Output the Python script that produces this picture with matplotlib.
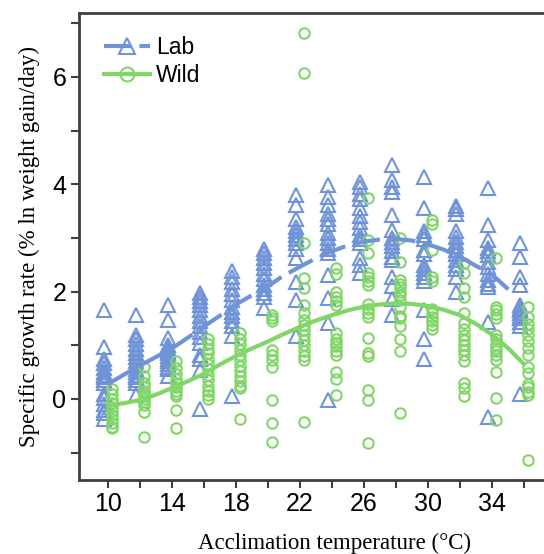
import numpy as np
import matplotlib
matplotlib.use("Agg")
import matplotlib.pyplot as plt

# acclimation temperatures (°C)
temps = [10, 12, 14, 16, 18, 20, 22, 24, 26, 28, 30, 32, 34, 36]

# specific growth rates per temperature, lab-reared fish
lab_rates = [
    [1.65, 0.97, 0.75, 0.66, 0.58, 0.5, 0.45, 0.4, 0.35, 0.3, 0.1, 0.01, -0.1, -0.2, -0.27, -0.37],
    [1.57, 1.2, 1.12, 1.02, 0.93, 0.85, 0.78, 0.7, 0.63, 0.56, 0.5, 0.45, 0.4, 0.35, 0.3, 0.07],
    [1.75, 1.47, 1.13, 1.0, 0.95, 0.9, 0.85, 0.8, 0.75, 0.7, 0.65, 0.6, 0.55, 0.42],
    [1.97, 1.9, 1.83, 1.75, 1.65, 1.55, 1.45, 1.35, 1.25, 1.15, 1.05, 0.82, 0.75, 0.54, -0.18],
    [2.38, 2.28, 2.18, 2.05, 1.95, 1.85, 1.72, 1.62, 1.55, 1.45, 1.35, 1.18, 0.05],
    [2.8, 2.72, 2.63, 2.53, 2.43, 2.33, 2.23, 2.13, 2.05, 1.97, 1.9, 1.69],
    [3.8, 3.61, 3.35, 3.2, 3.12, 3.05, 2.97, 2.9, 2.8, 2.62, 2.18, 1.84, 1.17],
    [3.98, 3.77, 3.62, 3.45, 3.35, 3.25, 3.1, 3.0, 2.9, 2.8, 2.72, 2.3, 1.88, 1.41, -0.02],
    [4.05, 3.95, 3.82, 3.72, 3.55, 3.4, 3.3, 3.18, 3.05, 2.98, 2.9, 2.62, 2.5, 2.35],
    [4.35, 4.08, 3.95, 3.85, 3.43, 3.15, 3.0, 2.92, 2.85, 2.75, 2.65, 2.58, 2.28, 2.1, 1.87, 1.56],
    [4.14, 3.55, 3.12, 3.05, 2.98, 2.77, 2.7, 2.5, 2.42, 2.35, 2.28, 2.2, 1.65, 1.12, 0.75],
    [3.6, 3.53, 3.45, 3.12, 3.02, 2.93, 2.85, 2.78, 2.7, 2.58, 2.5, 2.42, 2.28, 2.0],
    [3.92, 3.24, 2.96, 2.82, 2.75, 2.68, 2.55, 2.45, 2.32, 2.22, 2.15, 2.08, 1.44, -0.34],
    [2.9, 2.65, 2.28, 2.12, 1.75, 1.7, 1.65, 1.6, 1.55, 1.5, 1.43, 1.36, 0.1],
]

# specific growth rates per temperature, wild-caught fish
wild_rates = [
    [0.18, 0.1, 0.0, -0.08, -0.15, -0.22, -0.3, -0.38, -0.45, -0.52, -0.55],
    [0.6, 0.42, 0.3, 0.22, 0.15, 0.1, 0.05, 0.0, -0.05, -0.12, -0.24, -0.7],
    [0.7, 0.58, 0.47, 0.38, 0.3, 0.22, 0.15, 0.1, 0.05, -0.2, -0.55],
    [1.12, 1.02, 0.93, 0.85, 0.75, 0.65, 0.55, 0.45, 0.35, 0.25, 0.15, 0.07, 0.0],
    [1.22, 1.12, 1.02, 0.92, 0.82, 0.72, 0.62, 0.52, 0.42, 0.33, 0.25, 0.2, -0.37],
    [1.56, 1.5, 1.45, 0.91, 0.82, 0.72, 0.6, -0.02, -0.45, -0.8],
    [6.82, 6.08, 2.9, 2.25, 2.07, 1.75, 1.6, 1.47, 1.38, 1.28, 1.2, 1.1, 1.0, 0.9, 0.8, 0.72, -0.43],
    [2.43, 2.33, 2.0, 1.9, 1.82, 1.75, 1.23, 1.12, 1.05, 0.98, 0.9, 0.82, 0.5, 0.37, 0.07],
    [3.74, 2.96, 2.71, 2.35, 2.27, 2.2, 2.13, 1.76, 1.68, 1.6, 1.52, 1.13, 0.85, 0.8, 0.17, -0.02, -0.83],
    [3.0, 2.56, 2.22, 2.15, 2.08, 2.0, 1.93, 1.85, 1.72, 1.55, 1.5, 1.35, 1.12, 0.9, -0.26],
    [3.33, 3.25, 2.77, 2.28, 2.2, 1.68, 1.6, 1.52, 1.45, 1.38, 1.31],
    [2.53, 2.35, 2.07, 1.9, 1.6, 1.41, 1.3, 1.2, 1.1, 1.0, 0.92, 0.82, 0.7, 0.29, 0.2, 0.06],
    [2.62, 1.72, 1.65, 1.58, 1.5, 1.2, 1.12, 1.0, 0.95, 0.9, 0.82, 0.72, 0.5, 0.02, -0.4],
    [1.72, 1.52, 1.4, 1.3, 1.2, 1.08, 0.95, 0.82, 0.6, 0.48, 0.28, 0.22, 0.12, 0.07, -1.14],
]

# fitted curves
lab_fit_t = [10, 11, 12, 13, 14, 15, 16, 17, 18, 19, 20, 21, 22, 23, 24, 25, 26, 27, 28, 29, 30, 31, 32, 33, 34, 35, 35.3]
lab_fit = [0.28, 0.45, 0.62, 0.78, 0.94, 1.14, 1.35, 1.55, 1.76, 1.93, 2.1, 2.3, 2.46, 2.62, 2.75, 2.86,
           2.93, 2.97, 2.98, 2.95, 2.88, 2.78, 2.65, 2.48, 2.32, 2.05, 1.97]
wild_fit_t = [10, 11, 12, 13, 14, 15, 16, 17, 18, 19, 20, 21, 22, 23, 24, 25, 26, 27, 28, 29, 30, 31, 32, 33, 34, 35, 36]
wild_fit = [-0.12, -0.08, -0.02, 0.08, 0.2, 0.33, 0.47, 0.64, 0.8, 0.94, 1.07, 1.21, 1.34, 1.46, 1.56, 1.65,
            1.72, 1.76, 1.78, 1.77, 1.73, 1.66, 1.56, 1.4, 1.2, 0.95, 0.65]

lab_color = "#6f93d6"
wild_color = "#80d666"

plt.rcParams["font.family"] = ["Liberation Sans", "DejaVu Sans"]

fig = plt.figure(figsize=(5.44, 5.54), dpi=100)
# axes box runs past the right edge of the figure
ax = fig.add_axes([0.145, 0.1336, 0.875, 0.843])

# jittered columns: lab a bit left, wild a bit right of each temperature
for t, vals in zip(temps, lab_rates):
    ax.plot([t - 0.25] * len(vals), vals, linestyle="none", marker="^", markersize=10.5,
            markerfacecolor="none", markeredgecolor=lab_color, markeredgewidth=1.5)
for t, vals in zip(temps, wild_rates):
    ax.plot([t + 0.25] * len(vals), vals, linestyle="none", marker="o", markersize=7.5,
            markerfacecolor="none", markeredgecolor=wild_color, markeredgewidth=1.5)

ax.plot(lab_fit_t, lab_fit, color=lab_color, lw=3, dashes=(6.5, 2.0), solid_capstyle="butt")
ax.plot(wild_fit_t, wild_fit, color=wild_color, lw=3)

# legend handles
ax.plot([], [], color=lab_color, lw=3, dashes=(6.5, 2.0), marker="^", markersize=11,
        markerfacecolor="none", markeredgecolor=lab_color, markeredgewidth=1.5, label="Lab")
ax.plot([], [], color=wild_color, lw=3, marker="o", markersize=10,
        markerfacecolor="none", markeredgecolor=wild_color, markeredgewidth=1.5, label="Wild")
ax.legend(loc="upper left", bbox_to_anchor=(0.02, 0.985), frameon=False, fontsize=16.5,
          handlelength=2.0, handletextpad=0.25, labelspacing=0.2, borderaxespad=0.3)

ax.set_xlim(8.19, 37.94)
ax.set_ylim(-1.51, 7.19)
ax.set_xticks([10, 14, 18, 22, 26, 30, 34])
ax.set_xticks([12, 16, 20, 24, 28, 32, 36], minor=True)
ax.set_yticks([0, 2, 4, 6])
ax.set_yticks([-1, 1, 3, 5, 7], minor=True)
ax.tick_params(which="both", direction="out", length=6, width=1.5, color="#404040",
               labelsize=18, pad=3)

for side in ["left", "bottom", "top", "right"]:
    ax.spines[side].set_linewidth(2)
    ax.spines[side].set_color("#404040")

ax.set_xlabel("Acclimation temperature (°C)", family="Liberation Serif", fontsize=16.5)
ax.xaxis.set_label_coords(0.536, -0.114)
ax.set_ylabel("Specific growth rate (% ln weight gain/day)", family="Liberation Serif",
              fontsize=16.5, labelpad=9)

fig.savefig("out.png", dpi=100)
